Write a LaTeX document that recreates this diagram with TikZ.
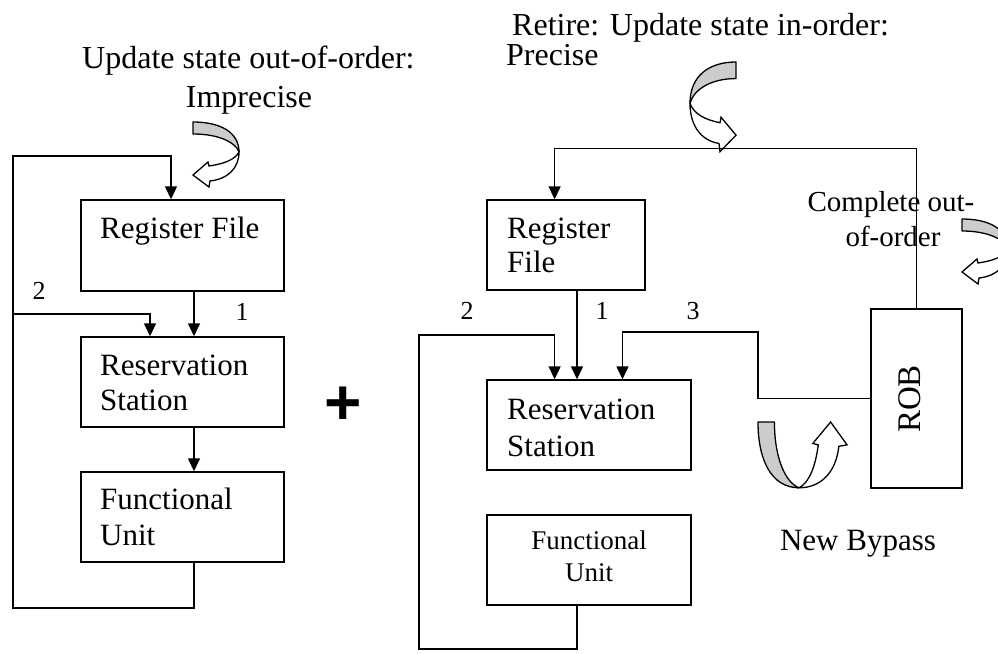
\documentclass[tikz,border=0pt]{standalone}
\usepackage{fontspec}
\setmainfont{Liberation Serif}
\newfontfamily\plusfont{Liberation Sans}
\usetikzlibrary{arrows.meta}
\definecolor{bandgray}{RGB}{204,204,204}
\begin{document}
\begin{tikzpicture}[x=1pt,y=-1pt,
  box/.style={draw, line width=1.4pt, inner sep=0pt},
  ln/.style={line width=1.4pt},
  arr/.style={line width=1.4pt, -{Triangle[length=13pt,width=12pt]}},
  txt/.style={inner sep=0pt, anchor=base west, font=\fontsize{31}{36}\selectfont},
  ctxt/.style={inner sep=0pt, anchor=base, font=\fontsize{31}{36}\selectfont},
  num/.style={inner sep=0pt, anchor=base, font=\fontsize{26}{30}\selectfont},
  uturn/.pic={
    \path[draw, fill=bandgray, line width=1.3pt, line join=round]
      (0,0) .. controls (27,0) and (46,10) .. (46,30)
      .. controls (43,21) and (27,12) .. (0,12) -- cycle;
    \path[draw, fill=white, line width=1.3pt, line join=miter]
      (46,30) .. controls (46,46) and (35,57) .. (17,59)
      -- (16,65) -- (0,53) -- (15,40) -- (16,44)
      .. controls (30,42) and (42,38) .. (46,30) -- cycle;
  }]
\useasboundingbox (0,0) rectangle (998,653);
\clip (0,0) rectangle (998,653);

% ---------- left diagram ----------
\node[txt, font=\fontsize{32}{36}\selectfont] (t1a) at (82,68) {Update state out-of-order:};
\node[ctxt, font=\fontsize{32}{36}\selectfont] (t1b) at (249,107) {Imprecise};
\pic (arrL) at (193,122) {uturn};

\node[box, minimum width=203pt, minimum height=91pt] (rf1) at (182.5,245.5) {};
\node[box, minimum width=203pt, minimum height=90pt] (rs1) at (182.5,382) {};
\node[box, minimum width=203pt, minimum height=90pt] (fu1) at (182.5,517) {};
\node[txt] (rf1t) at (100,238) {Register File};
\node[txt] (rs1t) at (100,375) {Reservation};
\node[txt] (rs1u) at (100,410) {Station};
\node[txt] (fu1t) at (100,509) {Functional};
\node[txt] (fu1u) at (100,545) {Unit};
\node[num] (l2a) at (39,299) {2};
\node[num] (l1a) at (242,320) {1};

\coordinate (j1) at (13,314);
\draw[arr] (rf1.south -| 194,0) -- (rs1.north -| 194,0);
\draw[arr] (rs1.south -| 194,0) -- (fu1.north -| 194,0);
\draw[arr] (fu1.south -| 194,0) -- (194,608) -- (13,608) -- (13,156) -- (171,156) -- (rf1.north -| 171,0);
\draw[arr] (j1) -- (150,314) -- (rs1.north -| 150,0);

% ---------- plus ----------
\node[inner sep=0pt, font=\plusfont\bfseries\fontsize{64}{64}\selectfont] (plus) at (343,406) {+};

% ---------- right diagram ----------
\node[txt, font=\fontsize{32}{36}\selectfont] (t2a) at (512,35) {Retire: Update state in-order:};
\node[txt, font=\fontsize{32}{36}\selectfont] (t2b) at (506,65) {Precise};
\pic[xscale=-1, yscale=1.38] (arrT) at (736,62) {uturn};

\node[box, minimum width=158pt, minimum height=90pt] (rf2) at (566,245) {};
\node[box, minimum width=204pt, minimum height=90pt] (rs2) at (589,425) {};
\node[box, minimum width=204pt, minimum height=90pt] (fu2) at (589,560) {};
\node[box, minimum width=91pt, minimum height=179pt] (rob) at (916.5,398.5) {};

\node[txt] (rf2t) at (507,238) {Register};
\node[txt] (rf2u) at (507,272) {File};
\node[txt] (rs2t) at (507,419) {Reservation};
\node[txt] (rs2u) at (507,456) {Station};
\node[ctxt, font=\fontsize{27}{31}\selectfont] (fu2t) at (589,549) {Functional};
\node[ctxt, font=\fontsize{27}{31}\selectfont] (fu2u) at (589,581) {Unit};
\node[inner sep=0pt, rotate=90, font=\fontsize{33}{36}\selectfont] (robt) at (910,399) {ROB};

\node[num] (l2b) at (467,319) {2};
\node[num] (l1b) at (602,319) {1};
\node[num] (l3b) at (693,319) {3};

\draw[arr] (rob.north) -- (rob.north |- 0,148.7) -- (554.6,148.7) -- (rf2.north -| 554.6,0);
\draw[arr] (rf2.south -| 577,0) -- (rs2.north -| 577,0);
\draw[arr] (fu2.south -| 577,0) -- (577,649) -- (419,649) -- (419,335) -- (554.6,335) -- (rs2.north -| 554.6,0);
\draw[arr] (rob.west) -- (758,398.5) -- (758,332) -- (622.5,332) -- (rs2.north -| 622.5,0);

\node[ctxt, font=\fontsize{29}{33}\selectfont] (ct1) at (891,211) {Complete out-};
\node[ctxt, font=\fontsize{29}{33}\selectfont] (ct2) at (893,246) {of-order};
\pic (arrR) at (962,219) {uturn};

\pic[cm={0,-1.43,-1.37,0,(0,0)}] (arrB) at (758,422) {uturn};
\node[ctxt] (nb) at (858,550) {New Bypass};
\end{tikzpicture}
\end{document}
